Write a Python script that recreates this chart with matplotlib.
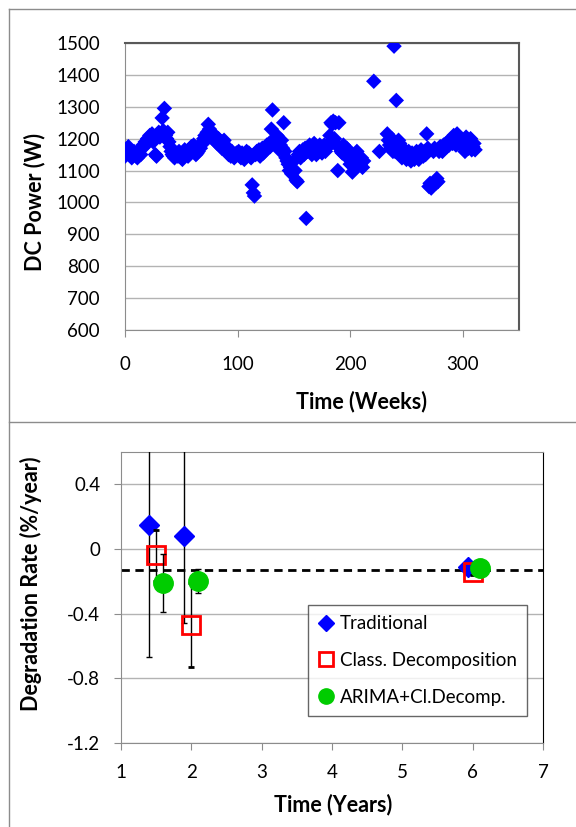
import numpy as np
import matplotlib
matplotlib.use("Agg")
import matplotlib.pyplot as plt
from matplotlib.lines import Line2D

plt.rcParams['font.family'] = ['Lato', 'DejaVu Sans']

nan = np.nan

# weekly DC power (W), one value per week starting at week 0
power = [
    1145, 1150, 1160, 1175, 1165, 1150, 1140, 1155, 1160, 1150,
    1145, 1140, 1155, 1165, 1150, 1170, 1180, 1175, 1190, 1185,
    1200, 1195, 1210, 1205, 1215, 1190, 1200, 1150, 1145, 1210,
    1220, 1205, 1215, 1265, 1225, 1295, 1210, 1200, 1220, 1190,
    1175, 1160, 1150, 1145, 1140, 1155, 1150, 1145, 1160, 1150,
    1140, 1135, 1150, 1165, 1160, 1155, 1145, 1150, 1170, 1175,
    1160, 1180, 1170, 1150, 1155, 1160, 1175, 1170, 1185, 1190,
    1200, 1210, 1195, 1220, 1245, 1230, 1215, 1205, 1200, 1195,
    1210, 1190, 1185, 1200, 1180, 1175, 1170, 1190, 1195, 1180,
    1165, 1160, 1150, 1155, 1145, 1160, 1150, 1140, 1145, 1155,
    1150, 1160, 1145, 1140, 1155, 1150, 1135, 1145, 1160, 1150,
    1155, 1145, 1140, 1055, 1030, 1020, 1150, 1160, 1155, 1165,
    1145, 1160, 1170, 1155, 1165, 1175, 1180, 1170, 1185, 1175,
    1230, 1290, 1190, 1200, 1185, 1210, 1175, 1165, 1180, 1195,
    1170, 1250, 1160, 1140, 1130, 1120, 1100, 1110, 1090, 1105,
    1130, 1100, 1070, 1065, 1150, 1160, 1140, 1155, 1165, 1150,
    1170, 950, 1160, 1175, 1180, 1160, 1150, 1170, 1185, 1165,
    1150, 1160, 1175, 1180, 1165, 1155, 1170, 1180, 1160, 1170,
    1175, 1185, 1210, 1250, 1245, 1255, 1200, 1250, 1180, 1100,
    1250, 1170, 1160, 1155, 1180, 1150, 1165, 1170, 1140, 1155,
    1120, 1150, 1095, 1130, 1110, 1140, 1160, 1125, 1135, 1120,
    1140, 1110, 1130, nan, nan, nan, nan, nan, nan, nan,
    nan, 1380, nan, nan, nan, nan, 1160, nan, nan, nan,
    nan, nan, nan, 1215, 1195, 1180, 1170, 1200, 1160, 1490,
    1160, 1320, 1175, 1195, 1185, 1150, 1140, 1170, 1155, 1145,
    1135, 1150, 1160, 1140, 1130, 1155, 1145, 1135, 1150, 1160,
    1140, 1135, 1150, 1165, 1155, 1145, 1160, 1150, 1215, 1170,
    1050, 1060, 1045, 1055, 1160, 1170, 1060, 1075, 1065, 1160,
    1175, 1165, 1160, 1180, 1170, 1185, 1175, 1190, 1180, 1195,
    1200, 1185, 1210, 1195, 1180, 1215, 1205, 1190, 1200, 1185,
    1175, 1195, 1160, 1205, 1180, 1170, 1190, 1200, 1165, 1175,
    1185, 1165,
]
weeks = np.arange(len(power))

# degradation rates (%/year) and uncertainty per method
trad_x = [1.4, 1.9, 5.93]
trad_y = [0.15, 0.08, -0.11]
trad_err = [0.82, 0.54, 0.02]

cls_x = [1.5, 2.0, 6.0]
cls_y = [-0.04, -0.47, -0.14]
cls_err = [0.16, 0.26, 0.02]

ari_x = [1.6, 2.1, 6.1]
ari_y = [-0.21, -0.20, -0.12]
ari_err = [0.18, 0.075, 0.02]

ref_rate = -0.13

fig = plt.figure(figsize=(5.76, 8.27), dpi=100)
W, H = 576.0, 827.0

def box(l, t, r, b):
    return [l / W, 1 - b / H, (r - l) / W, (b - t) / H]

# chart frames
frame = dict(color='#8c8c8c', lw=1.0, transform=fig.transFigure)
fig.add_artist(Line2D([9 / W, 1], [1 - 9 / H, 1 - 9 / H], **frame))
fig.add_artist(Line2D([9 / W, 9 / W], [1 - 9 / H, 0], **frame))
fig.add_artist(Line2D([9 / W, 1], [1 - 422 / H, 1 - 422 / H], **frame))

grid_c = '#b3b3b3'
tick_fs = 13.5
lab_fs = 15.5

# ---- top: DC power ----
ax1 = fig.add_axes(box(125, 43, 519, 330))
ax1.scatter(weeks, power, marker='D', s=62, color='#0000ff', edgecolors='none', zorder=3)
ax1.set_xlim(0, 350)
ax1.set_ylim(600, 1500)
ax1.set_xticks([0, 100, 200, 300])
ax1.set_yticks(np.arange(600, 1501, 100))
ax1.yaxis.grid(True, color=grid_c, lw=1)
ax1.set_axisbelow(True)
ax1.tick_params(axis='x', length=5, color='#8c8c8c', labelsize=tick_fs, pad=14)
ax1.tick_params(axis='y', length=0, labelsize=tick_fs, pad=18)
for s in ['left', 'bottom']:
    ax1.spines[s].set_color('#8c8c8c')
for s in ['top', 'right']:
    ax1.spines[s].set_color('#595959')
    ax1.spines[s].set_linewidth(1.5)
ax1.set_ylabel('DC Power (W)', fontsize=lab_fs, fontweight='bold', va='center')
ax1.yaxis.set_label_coords((35 - 125) / 394, (330 - 202) / 287)
ax1.set_xlabel('Time (Weeks)', fontsize=lab_fs, fontweight='bold', va='center')
ax1.xaxis.set_label_coords((362 - 125) / 394, -(402 - 330) / 287)

# ---- bottom: degradation rates ----
ax2 = fig.add_axes(box(121, 452, 543, 743))
ek = dict(ecolor='black', elinewidth=1, capsize=2, capthick=1, linestyle='none')
ax2.errorbar(trad_x, trad_y, yerr=trad_err, marker='D', ms=10,
             mfc='#0000ff', mec='#0000ff', zorder=3, **ek)
ax2.errorbar(cls_x, cls_y, yerr=cls_err, marker='s', ms=13,
             mfc='none', mec='#ff0000', mew=2, zorder=4, **ek)
ax2.errorbar(ari_x, ari_y, yerr=ari_err, marker='o', ms=14,
             mfc='#00cc00', mec='#00cc00', zorder=5, **ek)
ax2.axhline(ref_rate, color='black', lw=2, ls=(0, (3, 2)), zorder=2)
ax2.set_xlim(1, 7)
ax2.set_ylim(-1.2, 0.6)
ax2.set_xticks(range(1, 8))
ax2.set_yticks([-1.2, -0.8, -0.4, 0, 0.4])
ax2.set_yticklabels(['-1.2', '-0.8', '-0.4', '0', '0.4'])
ax2.yaxis.grid(True, color=grid_c, lw=1)
ax2.set_axisbelow(True)
ax2.tick_params(axis='x', length=5, color='#8c8c8c', labelsize=tick_fs, pad=10)
ax2.tick_params(axis='y', length=5, color='#8c8c8c', labelsize=tick_fs, pad=10)
for s in ['left', 'bottom', 'top']:
    ax2.spines[s].set_color('#8c8c8c')
ax2.spines['right'].set_color('black')
ax2.set_ylabel('Degradation Rate (%/year)', fontsize=lab_fs, fontweight='bold', va='center')
ax2.yaxis.set_label_coords((31 - 121) / 422, (743 - 584) / 291)
ax2.set_xlabel('Time (Years)', fontsize=lab_fs, fontweight='bold', va='center')
ax2.xaxis.set_label_coords((333 - 121) / 422, -(805 - 743) / 291)

handles = [
    Line2D([], [], ls='none', marker='D', ms=8, mfc='#0000ff', mec='#0000ff'),
    Line2D([], [], ls='none', marker='s', ms=10, mfc='none', mec='#ff0000', mew=2),
    Line2D([], [], ls='none', marker='o', ms=11, mfc='#00cc00', mec='#00cc00'),
]
labels = ['Traditional', 'Class. Decomposition', 'ARIMA+Cl.Decomp.']
leg = ax2.legend(handles, labels, loc='upper left',
                 bbox_to_anchor=((308 - 121) / 422, (743 - 605) / 291),
                 fontsize=13.5, frameon=True, fancybox=False, edgecolor='#404040',
                 borderaxespad=0, labelspacing=1.05, handlelength=0.8, handletextpad=0.35,
                 borderpad=0.55)
leg.get_frame().set_linewidth(1)

fig.savefig('out.png', dpi=100)
